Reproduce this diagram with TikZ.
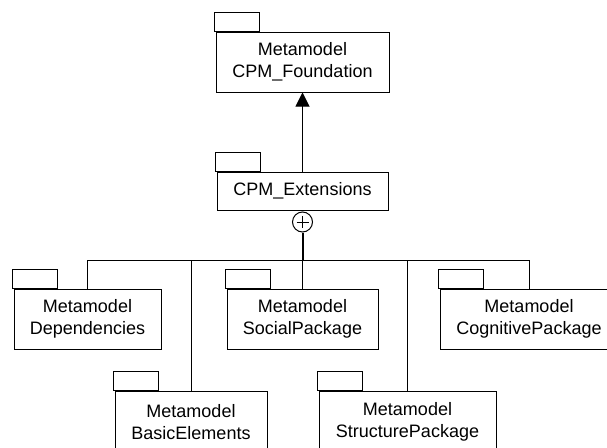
\documentclass[tikz,border=0pt]{standalone}
\usepackage{fontspec}
\setmainfont{Liberation Sans}
\usetikzlibrary{arrows.meta,calc,positioning}

\newcommand{\pkgtab}[1]{\draw ($(#1.north west)+(-1pt,0)$) rectangle ++(45pt,19pt);}

\begin{document}
\begin{tikzpicture}[x=1pt, y=-1pt, line width=1pt,
    pkg/.style={draw, rectangle, align=center, inner sep=0pt,
        font=\fontsize{18}{21.6}\selectfont},
    link/.style={line width=1pt},
    stem/.style={line width=2pt}]
    \useasboundingbox (0,0) rectangle (607,447);
    % packages
    \node[pkg, minimum width=173pt, minimum height=60pt] (found) at (302.5,62) {Metamodel\\CPM\_Foundation};
    \node[pkg, minimum width=171pt, minimum height=38pt] (ext) at (302.5,191) {CPM\_Extensions};
    \node[pkg, minimum width=147pt, minimum height=60pt] (dep) at (87.5,319) {Metamodel\\Dependencies};
    \node[pkg, minimum width=151pt, minimum height=60pt] (social) at (302.5,319) {Metamodel\\SocialPackage};
    \node[pkg, minimum width=178pt, minimum height=60pt] (cog) at (529,319) {Metamodel\\CognitivePackage};
    \node[pkg, minimum width=152pt, minimum height=62pt] (basic) at (191,422) {Metamodel\\BasicElements};
    \node[pkg, minimum width=177pt, minimum height=62pt] (struct) at (407.5,422) {Metamodel\\StructurePackage};
    \pkgtab{found}
    \pkgtab{ext}
    \pkgtab{dep}
    \pkgtab{social}
    \pkgtab{cog}
    \pkgtab{basic}
    \pkgtab{struct}
    % generalisation
    \draw[link, -{Triangle[length=14pt, width=14pt]}] (ext.north) -- (found.south);
    % containment
    \node[draw, circle, line width=1pt, minimum size=20pt, inner sep=0pt] (plusc) at (302.5,222) {};
    \draw[link] ($(plusc.center)+(0,-6)$) -- ($(plusc.center)+(0,6)$)
        ($(plusc.center)+(-6,0)$) -- ($(plusc.center)+(6,0)$);
    \coordinate (bus) at (302.5,260);
    \draw[stem] (plusc.south) -- (bus);
    \draw[link] (bus) -| (dep.north);
    \draw[link] (bus) -| (basic.north);
    \draw[link] (bus) -- (social.north);
    \draw[link] (bus) -| (struct.north);
    \draw[link] (bus) -| (cog.north);
\end{tikzpicture}
\end{document}
